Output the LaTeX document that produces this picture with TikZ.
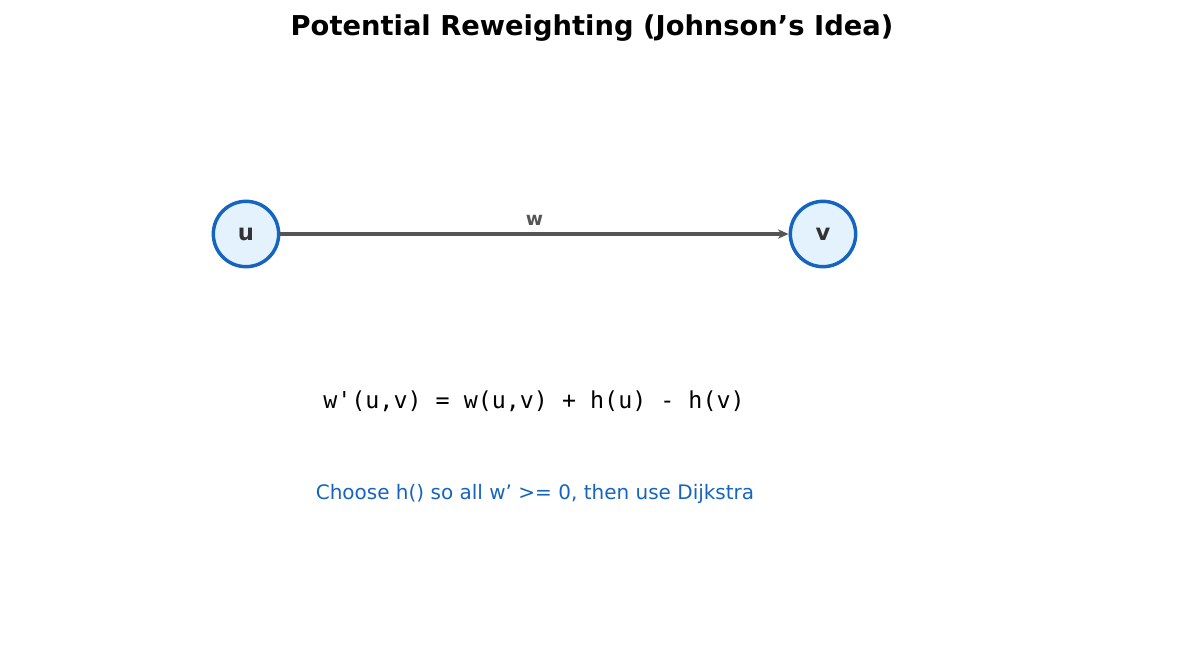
\documentclass[tikz,border=0pt]{standalone}
\usepackage{fontspec}
\setmainfont{DejaVu Sans}
\setmonofont{DejaVu Sans Mono}
\usetikzlibrary{arrows.meta}
\definecolor{nb}{HTML}{1565C0}
\definecolor{nf}{HTML}{E3F2FD}
\definecolor{eg}{HTML}{555555}
\begin{document}
\begin{tikzpicture}[x=0.75pt,y=-0.75pt,
  vert/.style={circle,draw=nb,fill=nf,line width=2.6pt,minimum size=49pt,inner sep=0pt,font=\fontsize{17}{20}\selectfont\bfseries,text=black!80},
  edge/.style={draw=eg,line width=2.3pt,-{Stealth[length=8pt,width=7pt]}}]
\useasboundingbox (0,0) rectangle (1185,654);
\node[font=\fontsize{20.5}{24}\selectfont\bfseries] (title) at (592,28) {Potential Reweighting (Johnson's Idea)};
\node[vert] (u) at (246,234) {u};
\node[vert] (v) at (823,234) {v};
\draw[edge] (u) -- (v) node[midway,above=2pt,font=\fontsize{14}{16}\selectfont\bfseries,text=eg] (w) {w};
\node[font=\fontsize{17.5}{20}\selectfont\ttfamily] (f) at (534,401) {w'(u,v) = w(u,v) + h(u) - h(v)};
\node[font=\fontsize{15}{18}\selectfont,text=nb] (c) at (535,494) {Choose h() so all w' >= 0, then use Dijkstra};
\end{tikzpicture}
\end{document}
